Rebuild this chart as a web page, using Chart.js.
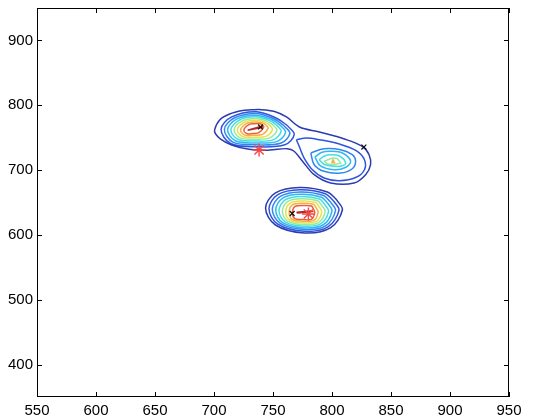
<!DOCTYPE html>
<html>
<head>
<meta charset="utf-8">
<script src="https://cdn.jsdelivr.net/npm/chart.js@4.4.1/dist/chart.umd.min.js"></script>
<style>
  html, body { margin: 0; padding: 0; background: #fff; }
</style>
</head>
<body>
<canvas id="contourChart" width="545" height="417"></canvas>
<script>
// tick labels
const xTicks = [550, 600, 650, 700, 750, 800, 850, 900, 950];
const yTicks = [400, 500, 600, 700, 800, 900];

// contour lines, [x, y], each one closed
// outermost level, wraps the upper left and the upper right peak
const outerPair = [[731.5,793],[738.6,793.4],[751.3,790.4],[761.4,781.9],[772.4,766.5],[789.3,758.7],[810.5,748.0],[825.7,736.4],[831.4,723.7],[832.7,708.3],[828.5,692.9],[818.7,680.1],[798.9,680.1],[784.9,692.9],[775.0,713.6],[767.9,729.0],[762,733],[750,731.5],[742.8,730.5],[728.4,732.5],[714.9,738.7],[705.6,747.9],[701.4,755.7],[700.5,762],[704.8,777.3],[713.2,786.5],[724.2,791.9],[731.5,793]];

// upper left peak
const left2 = [[762,769],[753,780],[736,790],[715,782],[706,763],[714,741],[736,736],[760,739],[768,755],[762,769]];
const left3 = [[759,769],[751.1,778.8],[735.7,787.4],[717.1,780.3],[708.8,762.8],[716.0,743.2],[735.6,738.9],[756.9,741.7],[764.3,756.6],[759,769]];
const left4 = [[756,769.5],[749.1,777.6],[735.4,784.7],[719.1,778.6],[711.5,762.5],[718.1,745.3],[735.1,741.9],[753.7,744.3],[760.6,758.3],[756,769.5]];
const left5 = [[753,769.5],[747.2,776.4],[735.1,782.1],[721.2,776.9],[714.3,762.3],[720.1,747.5],[734.7,744.8],[750.6,747.0],[756.9,759.9],[753,769.5]];
const left6 = [[750,769.5],[745.2,775.1],[734.9,779.4],[723.3,775.1],[717.0,762.1],[722.1,749.6],[734.3,747.7],[747.4,749.7],[753.3,761.5],[750,769.5]];
const left7 = [[747,769.5],[743.3,773.9],[734.6,776.8],[725.4,773.4],[719.8,761.9],[724.1,751.8],[733.9,750.6],[744.3,752.4],[749.6,763.1],[747,769.5]];
const left8 = [[744,769.5],[741.3,772.7],[734.3,774.1],[727.4,771.7],[722.5,761.6],[726.2,753.9],[733.4,753.6],[741.1,755.0],[745.9,764.8],[744,769.5]];
const left9 = [[741,769.2],[739.4,771.5],[734,771.5],[729.5,770],[725.3,761.4],[728.2,756.1],[733,756.5],[738,757.7],[742.2,766.4],[741,769.2]];
const left10 = [[728.5,761.5],[738,766.5],[741,767.5],[741,765.5],[737,764.5],[728.5,761.5]];

// upper right peak
const right2 = [[769.8,746.9],[778.2,749.5],[789.4,746.9],[806.3,740.2],[820.5,729.9],[827.5,716.0],[827.5,700.6],[820.5,688.9],[806.3,683.6],[793.3,687.8],[783.4,700.6],[776.4,718.6],[772.2,736.7],[769.8,746.9]];
const right3 = [[782.0,726.4],[793.3,733.0],[807.3,731.4],[817.2,723.7],[820.0,713.6],[817.2,702.1],[807.3,695.5],[793.3,698.1],[784.9,708.3],[782.0,726.4]];
const right4 = [[785.5,720.2],[791.0,727.1],[798.9,729.0],[808.8,726.4],[815.8,713.6],[811.3,704.0],[801.8,700.6],[790.2,706.3],[785.5,720.2]];
const right5 = [[789.1,716.0],[793.6,721.7],[798.9,723.7],[806.3,721.7],[811.6,710.9],[808.0,706.3],[801.8,705.8],[793.6,708.6],[789.1,716.0]];
const right6 = [[793.3,713.6],[800.3,718.6],[804.5,717.9],[807.3,710.9],[801.8,708.3],[796.1,709.4],[793.3,713.6]];
const rightTop = [[799.7,711.2],[802.1,711.2],[800.9,715.9],[799.7,711.2]];

// lower peak
const low1 = [[804,654],[796.1,666.2],[772.4,673.1],[752.1,664.7],[743.7,641.5],[752.1,615.3],[776.6,603.0],[798.6,610.7],[808.8,638.4],[804,654]];
const low2 = [[801.5,652],[794.4,663.5],[772.8,669.6],[754.1,662.1],[746.6,640.5],[754.1,616.5],[776.5,605.6],[796.6,612.4],[805.9,637.9],[801.5,652]];
const low3 = [[799,650.3],[792.7,660.8],[773.2,666.2],[756.2,659.4],[749.4,639.5],[756.2,617.7],[776.4,608.2],[794.6,614.1],[803.0,637.4],[799,650.3]];
const low4 = [[796.5,648.5],[791.0,658.1],[773.5,662.7],[758.2,656.8],[752.3,638.4],[758.2,618.9],[776.3,610.8],[792.6,615.7],[800.0,636.9],[796.5,648.5]];
const low5 = [[794,646.7],[789.4,655.4],[773.9,659.3],[760.3,654.1],[755.1,637.4],[760.3,620.2],[776.2,613.4],[790.6,617.4],[797.1,636.4],[794,646.7]];
const low6 = [[791.6,645],[787.7,652.7],[774.3,655.8],[762.3,651.5],[757.9,636.4],[762.3,621.4],[776.1,616.0],[788.6,619.1],[794.2,635.8],[791.6,645]];
const low7 = [[789.2,643.2],[786.0,650.0],[774.7,652.3],[764.3,648.8],[760.8,635.4],[764.3,622.6],[776.0,618.6],[786.6,620.8],[791.3,635.3],[789.2,643.2]];
const low8 = [[786.7,641.5],[784.3,647.3],[775.0,648.9],[766.4,646.2],[763.7,634.3],[766.4,623.8],[775.9,621.2],[784.6,622.4],[788.3,634.8],[786.7,641.5]];
const low9 = [[784.3,639.8],[782.6,644.6],[775.4,645.4],[768.4,643.5],[766.5,633.3],[768.4,625.0],[775.8,623.8],[782.6,624.1],[785.4,634.3],[784.3,639.8]];
const low10 = [[770,635],[782,637],[783,636],[771,634],[770,635]];

// which level each line belongs to
const contourLines = [
  [outerPair, 1],
  [left2, 2], [left3, 3], [left4, 4], [left5, 5], [left6, 6], [left7, 7], [left8, 8], [left9, 9], [left10, 10],
  [right2, 2], [right3, 3], [right4, 4], [right5, 5], [right6, 6], [rightTop, 8],
  [low1, 1], [low2, 2], [low3, 3], [low4, 4], [low5, 5], [low6, 6], [low7, 7], [low8, 8], [low9, 9], [low10, 10]
];

// markers
const crossMarks = [[739.4, 766.5], [827, 735.5], [766.2, 633]];
const starMarks = [[738.2, 731], [780, 632.3]];

// jet-like colours, level 1 .. 10
const levelColors = ['#2a3cb0', '#2f55dc', '#3286f2', '#30b8f2', '#46dde6', '#9aea98', '#e6e24c', '#f6ae48', '#ee5c36', '#b02828'];

function toPoints(list) {
  return list.map(p => ({ x: p[0], y: p[1] }));
}

const datasets = [];

datasets.push({
  data: toPoints(starMarks),
  pointStyle: 'star',
  pointRadius: 6.5,
  borderColor: '#f04848',
  borderWidth: 1.4,
  showLine: false
});
datasets.push({
  data: toPoints(crossMarks),
  pointStyle: 'crossRot',
  pointRadius: 3.5,
  borderColor: '#111',
  borderWidth: 1.2,
  showLine: false
});

contourLines.forEach(function(item) {
  datasets.push({
    data: toPoints(item[0]),
    showLine: true,
    fill: false,
    borderColor: levelColors[item[1] - 1],
    borderWidth: 1.5,
    pointRadius: 0,
    tension: item[0].length > 8 ? 0.35 : 0
  });
});

// closed box with inward ticks, like the original axes
const boxPlugin = {
  id: 'boxTicks',
  afterDraw(chart) {
    const ctx = chart.ctx;
    const a = chart.chartArea;
    const xs = chart.scales.x;
    const ys = chart.scales.y;
    ctx.save();
    ctx.strokeStyle = '#000';
    ctx.lineWidth = 1;
    ctx.strokeRect(a.left + 0.5, a.top + 0.5, a.right - a.left - 1, a.bottom - a.top - 1);
    ctx.beginPath();
    xs.ticks.forEach(function(t) {
      const px = Math.round(xs.getPixelForValue(t.value)) + 0.5;
      ctx.moveTo(px, a.bottom); ctx.lineTo(px, a.bottom - 5);
      ctx.moveTo(px, a.top); ctx.lineTo(px, a.top + 5);
    });
    ys.ticks.forEach(function(t) {
      const py = Math.round(ys.getPixelForValue(t.value)) + 0.5;
      ctx.moveTo(a.left, py); ctx.lineTo(a.left + 5, py);
      ctx.moveTo(a.right, py); ctx.lineTo(a.right - 5, py);
    });
    ctx.stroke();
    ctx.restore();
  }
};

Chart.defaults.font.family = "'Liberation Sans', Arial, sans-serif";
Chart.defaults.font.size = 15;
Chart.defaults.color = '#000';

new Chart(document.getElementById('contourChart'), {
  type: 'scatter',
  data: { datasets: datasets },
  options: {
    responsive: false,
    animation: false,
    devicePixelRatio: 1,
    layout: { padding: { top: 8, right: 36, left: 0, bottom: 0 } },
    plugins: { legend: { display: false }, tooltip: { enabled: false } },
    scales: {
      x: {
        type: 'linear',
        min: 550,
        max: 950,
        afterBuildTicks: function(scale) { scale.ticks = xTicks.map(v => ({ value: v })); },
        afterFit: function(scale) {
          scale.height = 20;
          scale.paddingLeft = 0;
          scale.paddingRight = 0;
        },
        grid: { display: false, drawTicks: false },
        border: { display: false },
        ticks: { padding: 5, maxRotation: 0, autoSkip: false }
      },
      y: {
        type: 'linear',
        min: 350,
        max: 950,
        afterBuildTicks: function(scale) { scale.ticks = yTicks.map(v => ({ value: v })); },
        afterFit: function(scale) {
          scale.width = 37;
          scale.paddingTop = 0;
          scale.paddingBottom = 0;
        },
        grid: { display: false, drawTicks: false },
        border: { display: false },
        ticks: { padding: 4, autoSkip: false }
      }
    }
  },
  plugins: [boxPlugin]
});
</script>
</body>
</html>
